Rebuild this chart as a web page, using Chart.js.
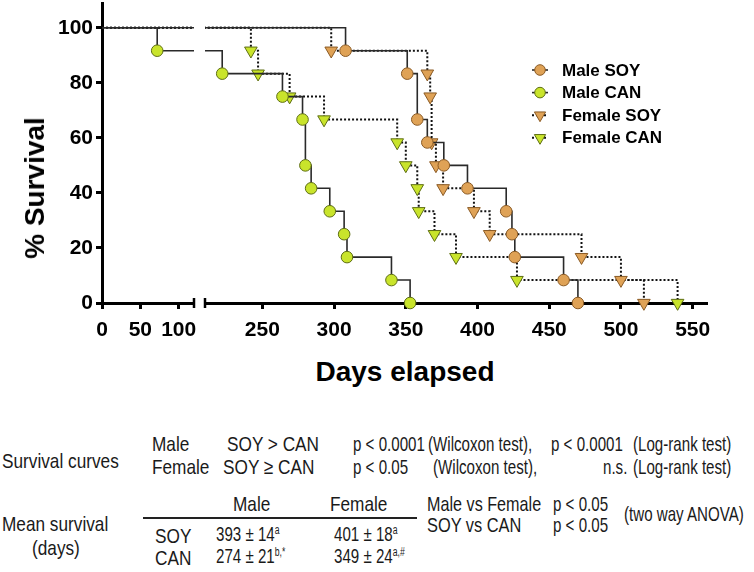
<!DOCTYPE html>
<html>
<head>
<meta charset="utf-8">
<script src="https://cdn.jsdelivr.net/npm/chart.js@4.4.1/dist/chart.umd.min.js"></script>
<style>
  body { margin: 0; background: #fff; width: 754px; height: 572px; position: relative; overflow: hidden;
         font-family: 'Liberation Sans', Arial, sans-serif; color: #1a1a1a; }
  canvas { position: absolute; top: 0; }
  #leftChart { left: 0; }
  #rightChart { left: 200px; }
  .axisTitle { position: absolute; font-weight: bold; font-size: 28px; line-height: 28px; white-space: nowrap; color: #000; }
  #yTitle { left: 35px; top: 188px; transform: translate(-50%, -50%) rotate(-90deg); }
  #xTitle { left: 405px; top: 372px; transform: translate(-50%, -50%); }
  .t { position: absolute; white-space: nowrap; font-size: 21px; line-height: 21px;
       transform: translateY(-50%) scaleX(0.72); transform-origin: left center; }
  .t.w { transform: translateY(-50%) scaleX(0.82); }
  .t .s { font-size: 12px; position: relative; top: -7px; }
  .rule { position: absolute; left: 143px; top: 517px; width: 274px; height: 1.5px; background: #222; }
</style>
</head>
<body>
<canvas id="leftChart" width="200" height="345"></canvas>
<canvas id="rightChart" width="554" height="345"></canvas>
<div class="axisTitle" id="yTitle">% Survival</div>
<div class="axisTitle" id="xTitle">Days elapsed</div>

<div class="t w" style="left:2px; top:460px">Survival curves</div>
<div class="t w" style="left:152px; top:443px">Male</div>
<div class="t w" style="left:227px; top:443px">SOY &gt; CAN</div>
<div class="t" style="left:353px; top:443px">p &lt; 0.0001</div>
<div class="t" style="left:428px; top:443px">(Wilcoxon test),</div>
<div class="t" style="left:551px; top:443px">p &lt; 0.0001</div>
<div class="t" style="left:633px; top:443px">(Log-rank test)</div>
<div class="t w" style="left:152px; top:466px">Female</div>
<div class="t w" style="left:223px; top:466px">SOY ≥ CAN</div>
<div class="t" style="left:353px; top:466px">p &lt; 0.05</div>
<div class="t" style="left:433px; top:466px">(Wilcoxon test),</div>
<div class="t" style="left:603px; top:466px">n.s.</div>
<div class="t" style="left:633px; top:466px">(Log-rank test)</div>

<div class="t w" style="left:2px; top:523px">Mean survival</div>
<div class="t w" style="left:32px; top:547px">(days)</div>
<div class="t w" style="left:233px; top:503px">Male</div>
<div class="t w" style="left:330px; top:503px">Female</div>
<div class="rule"></div>
<div class="t w" style="left:155px; top:535px">SOY</div>
<div class="t" style="left:216px; top:535px">393 ± 14<span class="s">a</span></div>
<div class="t" style="left:334px; top:535px">401 ± 18<span class="s">a</span></div>
<div class="t w" style="left:155px; top:557px">CAN</div>
<div class="t" style="left:216px; top:557px">274 ± 21<span class="s">b,*</span></div>
<div class="t" style="left:334px; top:557px">349 ± 24<span class="s">a,#</span></div>
<div class="t" style="left:427px; top:503px; transform: translateY(-50%) scaleX(0.77)">Male vs Female</div>
<div class="t" style="left:427px; top:524px; transform: translateY(-50%) scaleX(0.78)">SOY vs CAN</div>
<div class="t" style="left:553px; top:503px">p &lt; 0.05</div>
<div class="t" style="left:553px; top:524px">p &lt; 0.05</div>
<div class="t" style="left:624px; top:513px">(two way ANOVA)</div>

<script>
// Kaplan-Meier curves (days, % survival)
const maleSoyDays = [0, 308, 351, 358, 365, 376.5, 393, 420, 424, 426, 460, 470];
const maleSoySurv = [100, 91.67, 83.33, 66.67, 58.33, 50, 41.67, 33.33, 25, 16.67, 8.33, 0];

const maleCanDays = [0, 72, 222, 264, 278, 280, 284, 297, 307, 309, 340, 353];
const maleCanSurv = [100, 91.67, 83.33, 75, 66.67, 50, 41.67, 33.33, 25, 16.67, 8.33, 0];

const femaleSoyDays = [0, 298, 365, 367, 368, 371, 376, 397.5, 408.5, 472.5, 500, 516];
const femaleSoySurv = [100, 91.67, 83.33, 75, 58.33, 50, 41.67, 33.33, 25, 16.67, 8.33, 0];

const femaleCanDays = [0, 242, 247, 269, 293, 344, 350, 358, 359, 370, 385, 427.5, 539.5];
const femaleCanSurv = [100, 91.67, 83.33, 75, 66.67, 58.33, 50, 41.67, 33.33, 25, 16.67, 8.33, 0];

const seriesNames = ['Male SOY', 'Male CAN', 'Female SOY', 'Female CAN'];
const yTicks = [0, 20, 40, 60, 80, 100];
const xTicksLeft = [0, 50, 100];
const xTicksRight = [250, 300, 350, 400, 450, 500, 550];

const SOY_FILL = '#dfa256';
const SOY_EDGE = '#8a5a24';
const CAN_FILL = '#c9e42b';
const CAN_EDGE = '#5e6e14';

const maleLine = { color: '#2a2a2a', width: 1.6, dash: [] };
const femaleLine = { color: '#111', width: 2, dash: [2, 2] };

function toPoints(days, surv) {
  return days.map((d, i) => ({ x: d, y: surv[i] }));
}

function series(label, data, style, fill, edge, line) {
  const r = style === 'triangle' ? 7.3 : 5.8;
  return {
    label: label,
    data: data,
    stepped: true,
    fill: false,
    borderColor: line.color,
    borderWidth: line.width,
    borderDash: line.dash,
    pointStyle: style,
    pointRotation: style === 'triangle' ? 180 : 0,
    pointRadius: data.map((p, i) => i === 0 ? 0 : r), // no marker at day 0
    pointBackgroundColor: fill,
    pointBorderColor: edge,
    pointBorderWidth: 1,
    clip: { left: 0, right: 0, top: false, bottom: false }
  };
}

function makeDatasets() {
  return [
    series(seriesNames[0], toPoints(maleSoyDays, maleSoySurv), 'circle', SOY_FILL, SOY_EDGE, maleLine),
    series(seriesNames[1], toPoints(maleCanDays, maleCanSurv), 'circle', CAN_FILL, CAN_EDGE, maleLine),
    series(seriesNames[2], toPoints(femaleSoyDays, femaleSoySurv), 'triangle', SOY_FILL, SOY_EDGE, femaleLine),
    series(seriesNames[3], toPoints(femaleCanDays, femaleCanSurv), 'triangle', CAN_FILL, CAN_EDGE, femaleLine)
  ];
}

// little vertical caps where the x axis is broken
const breakCaps = {
  id: 'breakCaps',
  afterDraw(chart, args, opts) {
    const { ctx, chartArea } = chart;
    ctx.save();
    ctx.strokeStyle = '#000';
    ctx.lineWidth = 2.5;
    (opts.sides || []).forEach(side => {
      const x = side === 'left' ? chartArea.left : chartArea.right;
      ctx.beginPath();
      ctx.moveTo(x, chartArea.bottom - 5);
      ctx.lineTo(x, chartArea.bottom + 5);
      ctx.stroke();
    });
    ctx.restore();
  }
};

// legend drawn inside the plot, one row per dataset
const insideLegend = {
  id: 'insideLegend',
  afterDraw(chart, args, opts) {
    if (!opts.display) return;
    const ctx = chart.ctx;
    ctx.save();
    chart.data.datasets.forEach((ds, i) => {
      const y = opts.top + i * opts.gap;
      const x = opts.x;
      ctx.strokeStyle = ds.borderColor;
      ctx.lineWidth = ds.borderWidth;
      ctx.setLineDash(ds.borderDash);
      ctx.beginPath();
      ctx.moveTo(x - 8, y);
      ctx.lineTo(x + 8, y);
      ctx.stroke();
      ctx.setLineDash([]);
      ctx.fillStyle = ds.pointBackgroundColor;
      ctx.strokeStyle = ds.pointBorderColor;
      ctx.lineWidth = 1;
      Chart.helpers.drawPoint(ctx, {
        pointStyle: ds.pointStyle,
        rotation: ds.pointRotation,
        radius: ds.pointStyle === 'triangle' ? 6.5 : 5.3,
        borderWidth: 1
      }, x, y);
      ctx.fillStyle = '#000';
      ctx.font = 'bold 17px "Liberation Sans", Arial, sans-serif';
      ctx.textBaseline = 'middle';
      ctx.fillText(ds.label, opts.textX, y + 1);
    });
    ctx.restore();
  }
};

const tickFont = { family: "'Liberation Sans', Arial, sans-serif", size: 21, weight: 'bold' };
const axisGrid = { drawOnChartArea: false, drawTicks: true, tickLength: 6, tickWidth: 3, tickColor: '#000' };
const axisBorder = { display: true, width: 3, color: '#000' };

function xScale(min, max, tickValues) {
  return {
    type: 'linear',
    position: 'bottom',
    min: min,
    max: max,
    afterBuildTicks: s => { s.ticks = tickValues.map(v => ({ value: v })); },
    afterFit: s => {
      s.height = 42;
      s.paddingLeft = 0;
      s.paddingRight = 0;
    },
    ticks: { font: tickFont, color: '#000', padding: 9, autoSkip: false, maxRotation: 0, minRotation: 0 },
    grid: axisGrid,
    border: axisBorder
  };
}

function yScale(visible) {
  return {
    type: 'linear',
    display: visible,
    min: 0,
    max: 109,
    afterBuildTicks: s => { s.ticks = yTicks.map(v => ({ value: v })); },
    afterFit: s => {
      s.width = visible ? 102 : 0;
      s.paddingTop = 0;
      s.paddingBottom = 0;
    },
    ticks: { font: tickFont, color: '#000', padding: 3 },
    grid: axisGrid,
    border: axisBorder
  };
}

function makeChart(id, xMin, xMax, xTickValues, showY, padding, caps, legendOpts) {
  return new Chart(document.getElementById(id), {
    type: 'line',
    data: { datasets: makeDatasets() },
    plugins: [breakCaps, insideLegend],
    options: {
      responsive: false,
      animation: false,
      layout: { padding: padding, autoPadding: false },
      scales: {
        x: xScale(xMin, xMax, xTickValues),
        y: yScale(showY)
      },
      plugins: {
        legend: { display: false },
        tooltip: { enabled: false },
        breakCaps: { sides: caps },
        insideLegend: legendOpts
      }
    }
  });
}

makeChart('leftChart', 0, 120, xTicksLeft, true,
  { top: 3, right: 6, left: 0, bottom: 0 }, ['right'], { display: false });
makeChart('rightChart', 210, 560, xTicksRight, false,
  { top: 3, right: 47, left: 5, bottom: 0 }, ['left'],
  { display: true, x: 340, textX: 362, top: 70, gap: 22.6 });
</script>
</body>
</html>
